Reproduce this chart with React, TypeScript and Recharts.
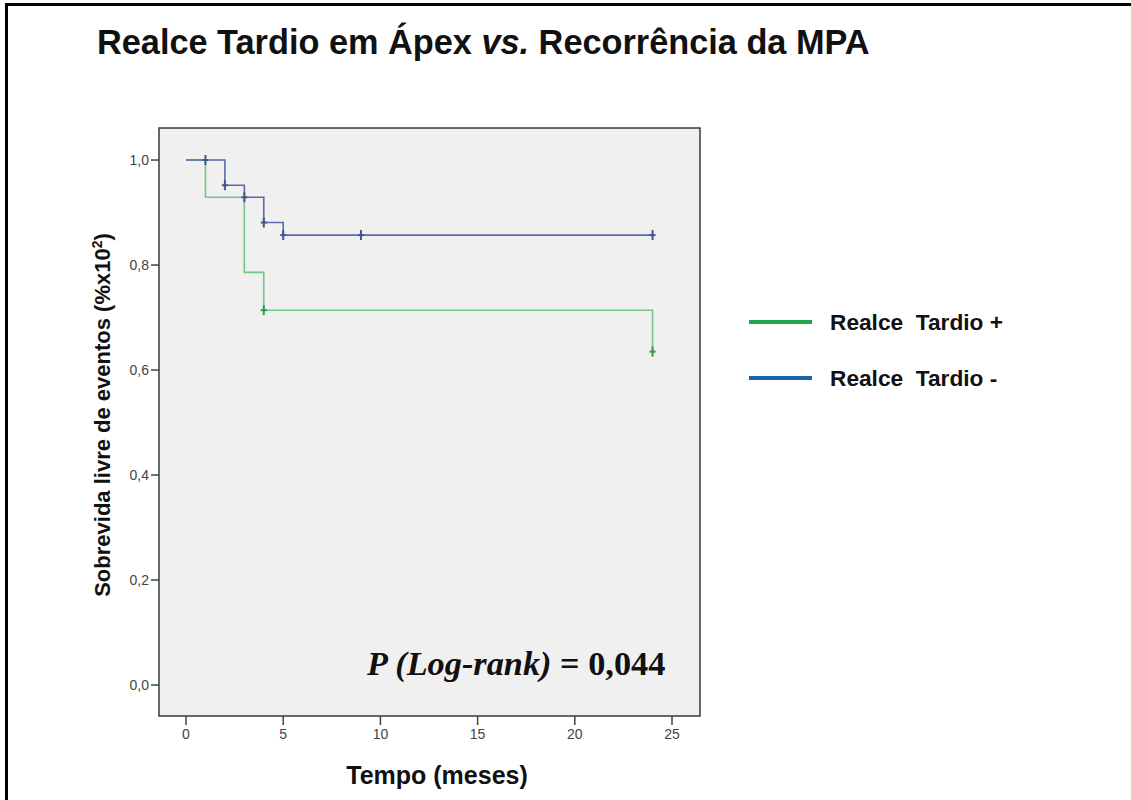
import React from "react"
import {
  ComposedChart, Line, Scatter, XAxis, YAxis, ReferenceArea, Legend, Label,
} from "recharts"

// Kaplan-Meier: realce tardio em ápex (tempo em meses)
const tempoPos = [0, 1, 3, 4, 24]
const sobrevPos = [1.0, 0.929, 0.786, 0.714, 0.635]
const tempoNeg = [0, 2, 3, 4, 5, 24]
const sobrevNeg = [1.0, 0.952, 0.929, 0.881, 0.857, 0.857]

// censuras (+)
const censTempoPos = [4, 24]
const censSobrevPos = [0.714, 0.635]
const censTempoNeg = [1, 2, 3, 4, 5, 9, 24]
const censSobrevNeg = [1.0, 0.952, 0.929, 0.881, 0.857, 0.857, 0.857]

const xTicks = [0, 5, 10, 15, 20, 25]
const yTicks = [0, 0.2, 0.4, 0.6, 0.8, 1.0]
const xDomain: [number, number] = [-1.39, 26.44]
const yDomain: [number, number] = [-0.059, 1.061]

const legendItems = [
  { label: "Realce  Tardio +", color: "#1fa64b" },
  { label: "Realce  Tardio -", color: "#1c62aa" },
]

const toPts = (t: number[], s: number[]) => t.map((v, i) => ({ t: v, s: s[i] }))

const kmPos = toPts(tempoPos, sobrevPos)
const kmNeg = toPts(tempoNeg, sobrevNeg)
const censPos = toPts(censTempoPos, censSobrevPos)
const censNeg = toPts(censTempoNeg, censSobrevNeg)

const SANS = "'Liberation Sans', Arial, sans-serif"
const SERIF = "'Liberation Serif', 'Times New Roman', serif"

function plusShape(color: string) {
  return (p: any) => (
    <g>
      <line x1={p.cx} x2={p.cx} y1={p.cy - 5} y2={p.cy + 5} stroke={color} strokeWidth={2} />
      <line x1={p.cx - 3} x2={p.cx + 3} y1={p.cy} y2={p.cy} stroke={color} strokeWidth={2} />
    </g>
  )
}

function LegendBox() {
  return (
    <div style={{ fontFamily: SANS }}>
      {legendItems.map((it) => (
        <div key={it.label} style={{ display: "flex", alignItems: "center", height: 56 }}>
          <div style={{ width: 63, height: 4, background: it.color, marginRight: 18 }} />
          <span style={{ fontSize: 22.7, fontWeight: 700, color: "#111", whiteSpace: "pre" }}>{it.label}</span>
        </div>
      ))}
    </div>
  )
}

export default function App() {
  return (
    <div style={{ position: "absolute", left: 0, top: 0, width: 1131, height: 800, background: "#fff", overflow: "hidden" }}>
      <div style={{
        position: "absolute", left: 5, top: 3, width: 1200, height: 900,
        borderLeft: "3px solid #000", borderTop: "3px solid #000",
      }} />
      <div style={{
        position: "absolute", left: 97, top: 22, fontFamily: SANS, fontSize: 34.3,
        fontWeight: 700, color: "#111", whiteSpace: "nowrap", lineHeight: "40px",
      }}>
        Realce Tardio em Ápex <i>vs.</i> Recorrência da MPA
      </div>

      <div style={{ position: "absolute", left: 0, top: 0 }}>
        <ComposedChart width={1131} height={800} margin={{ top: 128, right: 431, bottom: 54, left: 99 }}>
          <XAxis dataKey="t" type="number" domain={xDomain} ticks={xTicks} allowDataOverflow
            axisLine={false} tickSize={9} tickMargin={4} height={30}
            tickLine={{ stroke: "#444", strokeWidth: 1.5 }}
            tick={{ fontSize: 14, fill: "#444", fontFamily: SANS }}>
            <Label content={() => (
              <text x={437} y={784} textAnchor="middle" fontFamily={SANS} fontSize={25} fontWeight={700} fill="#111">
                Tempo (meses)
              </text>
            )} />
          </XAxis>
          <YAxis dataKey="s" type="number" domain={yDomain} ticks={yTicks} allowDataOverflow
            axisLine={false} tickSize={8} tickMargin={2} width={60}
            tickLine={{ stroke: "#444", strokeWidth: 1.5 }}
            tickFormatter={(v) => Number(v).toFixed(1).replace(".", ",")}
            tick={{ fontSize: 14, fill: "#444", fontFamily: SANS }}>
            <Label content={() => (
              <text x={110} y={415} transform="rotate(-90 110 415)" textAnchor="middle" fontFamily={SANS}
                fontSize={22} fontWeight={700} fill="#111">
                Sobrevida livre de eventos (%x10<tspan dy={-8} fontSize={14}>2</tspan><tspan dy={8}>)</tspan>
              </text>
            )} />
          </YAxis>
          <ReferenceArea x1={xDomain[0]} x2={xDomain[1]} y1={yDomain[0]} y2={yDomain[1]}
            fill="#f0f0f0" fillOpacity={1} stroke="#3a3a3a" strokeWidth={1.5} ifOverflow="visible" />
          <Legend layout="horizontal" verticalAlign="middle" align="center" content={() => <LegendBox />}
            wrapperStyle={{ position: "absolute", left: 749, top: 294, width: 320 }} />
          <Line data={kmPos} dataKey="s" type="stepAfter" stroke="#74c68a" strokeWidth={1.6}
            dot={false} isAnimationActive={false} name="Realce Tardio +" />
          <Line data={kmNeg} dataKey="s" type="stepAfter" stroke="#5b68a9" strokeWidth={1.6}
            dot={false} isAnimationActive={false} name="Realce Tardio -" />
          <Scatter data={censNeg} dataKey="s" shape={plusShape("#46548f")} isAnimationActive={false} legendType="none" />
          <Scatter data={censPos} dataKey="s" shape={plusShape("#2f9c4a")} isAnimationActive={false} legendType="none" />
        </ComposedChart>
      </div>

      <div style={{
        position: "absolute", left: 367, top: 643, fontFamily: SERIF, fontSize: 34.3,
        fontWeight: 700, color: "#111", whiteSpace: "nowrap", lineHeight: "40px",
      }}>
        <i>P (Log-rank)</i> = 0,044
      </div>
    </div>
  )
}
